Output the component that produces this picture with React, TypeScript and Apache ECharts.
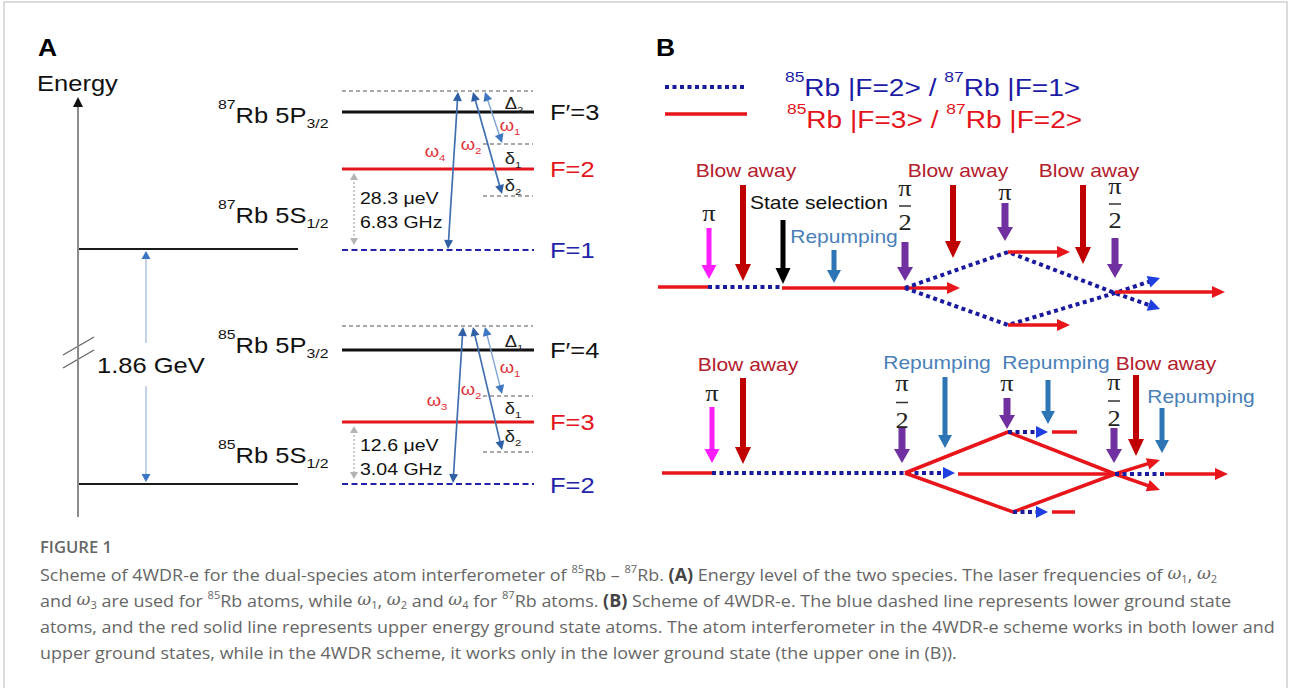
import React, { useEffect, useRef } from 'react';
import * as echarts from 'echarts';

const SANS = '"Liberation Sans", Arial, sans-serif';
const SERIF = '"Liberation Serif", "DejaVu Serif", serif';
const CAP = '"Open Sans", "Noto Sans", sans-serif';

// ---------------- data ----------------
// Panel A energy levels: [x1, y1, x2, y2, kind]
const levelLines: [number, number, number, number, string][] = [
  [78, 249, 298, 249, 'ground'],
  [78, 484, 298, 484, 'ground'],
  [63, 355, 94, 337, 'brk'],
  [63, 368, 94, 350, 'brk'],
  [342, 91, 533, 91, 'virt'],
  [342, 112, 534, 112, 'excited'],
  [483, 144, 533, 144, 'virt'],
  [342, 169, 534, 169, 'upper'],
  [483, 196, 533, 196, 'virt'],
  [342, 250, 534, 250, 'lower'],
  [342, 326, 533, 326, 'virt'],
  [342, 350, 534, 350, 'excited'],
  [483, 396, 533, 396, 'virt'],
  [342, 422, 534, 422, 'upper'],
  [483, 452, 533, 452, 'virt'],
  [342, 484, 534, 484, 'lower'],
];

// Panel A transitions: [x1, y1, x2, y2, kind, heads]
const transitions: [number, number, number, number, string, string][] = [
  [78, 517, 78, 97, 'axis', 'end'],
  [146, 343, 146, 251, 'gap', 'end'],
  [146, 386, 146, 482, 'gap', 'end'],
  [448, 249, 458, 92, 'omega', 'both'],
  [473, 92, 502, 194, 'omega', 'both'],
  [485, 92, 502, 143, 'omegaLight', 'both'],
  [453, 483, 463, 327, 'omega', 'both'],
  [473, 327, 502, 450, 'omega', 'both'],
  [485, 327, 502, 394, 'omegaLight', 'both'],
  [354, 173, 354, 245, 'split', 'both'],
  [354, 426, 354, 479, 'split', 'both'],
];

// Panel B atom trajectories: points, state kind, arrow flag
const trajPoints: number[][][] = [
  [[665, 87], [747, 87]],
  [[665, 114], [747, 114]],
  [[658, 287], [708, 287]],
  [[708, 287], [782, 287]],
  [[782, 288], [960, 288]],
  [[905, 288], [1008, 252], [1115, 293], [1160, 309]],
  [[905, 288], [1008, 325], [1115, 293], [1160, 278]],
  [[1008, 252], [1070, 252]],
  [[1008, 325], [1070, 325]],
  [[1115, 292], [1225, 292]],
  [[662, 473], [712, 473]],
  [[712, 473], [955, 473]],
  [[905, 473], [1008, 432], [1115, 474], [1160, 490]],
  [[905, 473], [1013, 512], [1115, 474], [1160, 460]],
  [[958, 474], [1115, 474]],
  [[1115, 474], [1165, 474]],
  [[1165, 474], [1228, 474]],
  [[1008, 432], [1048, 432]],
  [[1052, 432], [1077, 432]],
  [[1013, 512], [1048, 512]],
  [[1052, 512], [1075, 512]],
];
const trajKinds = ['blue', 'red', 'red', 'blue', 'red', 'blue', 'blue', 'red', 'red', 'red',
  'red', 'blue', 'red', 'red', 'red', 'blue', 'red', 'blue', 'red', 'blue', 'red'];
const trajArrow = [false, false, false, false, true, true, true, true, true, true,
  false, true, true, true, false, false, true, true, false, true, false];

// Panel B laser pulses: [x, yTop, yTip, kind]
const pulses: [number, number, number, string][] = [
  [709, 228, 279, 'magenta'],
  [743, 185, 281, 'blow'],
  [783, 220, 284, 'select'],
  [834, 250, 283, 'repump'],
  [905, 242, 281, 'purple'],
  [953, 185, 258, 'blow'],
  [1005, 203, 241, 'purple'],
  [1083, 185, 264, 'blow'],
  [1115, 238, 278, 'purple'],
  [712, 407, 463, 'magenta'],
  [743, 378, 464, 'blow'],
  [902, 428, 463, 'purple'],
  [945, 377, 448, 'repump'],
  [1007, 398, 429, 'purple'],
  [1048, 380, 424, 'repump'],
  [1114, 428, 463, 'purple'],
  [1136, 375, 456, 'blow'],
  [1162, 408, 453, 'repump'],
];

// π/2 labels: [x, yPi, yTwo]
const halfPiLabels: [number, number, number][] = [
  [905, 188, 222],
  [1115, 186, 220],
  [902, 383, 420],
  [1114, 382, 418],
];

// Text labels: [x, y, content, kind, align]
const labels: [number, number, string, string, string][] = [
  [38, 47, '{n|A}', 'panel', 'left'],
  [656, 47, '{n|B}', 'panel', 'left'],
  [37, 83, '{n|Energy}', 'a', 'left'],
  [97, 365, '{n|1.86 GeV}', 'a', 'left'],
  [218, 115, '{p|87}{n|Rb 5P}{b|3/2}', 'a', 'left'],
  [218, 215, '{p|87}{n|Rb 5S}{b|1/2}', 'a', 'left'],
  [218, 345, '{p|85}{n|Rb 5P}{b|3/2}', 'a', 'left'],
  [218, 455, '{p|85}{n|Rb 5S}{b|1/2}', 'a', 'left'],
  [550, 112, '{n|F\u2032=3}', 'a', 'left'],
  [550, 169, '{n|F=2}', 'aRed', 'left'],
  [550, 250, '{n|F=1}', 'aBlue', 'left'],
  [550, 350, '{n|F\u2032=4}', 'a', 'left'],
  [550, 422, '{n|F=3}', 'aRed', 'left'],
  [550, 485, '{n|F=2}', 'aBlue', 'left'],
  [360, 198, '{n|28.3 \u03bceV}', 'gap', 'left'],
  [360, 222, '{n|6.83 GHz}', 'gap', 'left'],
  [360, 445, '{n|12.6 \u03bceV}', 'gap', 'left'],
  [360, 469, '{n|3.04 GHz}', 'gap', 'left'],
  [514, 103, '{n|\u0394}{b|2}', 'small', 'center'],
  [510, 125, '{n|\u03c9}{b|1}', 'smallRed', 'center'],
  [471, 144, '{n|\u03c9}{b|2}', 'smallRed', 'center'],
  [435, 151, '{n|\u03c9}{b|4}', 'smallRed', 'center'],
  [513, 158, '{n|\u03b4}{b|1}', 'small', 'center'],
  [513, 185, '{n|\u03b4}{b|2}', 'small', 'center'],
  [514, 341, '{n|\u0394}{b|1}', 'small', 'center'],
  [510, 367, '{n|\u03c9}{b|1}', 'smallRed', 'center'],
  [471, 389, '{n|\u03c9}{b|2}', 'smallRed', 'center'],
  [437, 400, '{n|\u03c9}{b|3}', 'smallRed', 'center'],
  [513, 408, '{n|\u03b4}{b|1}', 'small', 'center'],
  [513, 436, '{n|\u03b4}{b|2}', 'small', 'center'],
  [785, 88, '{p|85}{n|Rb |F=2> / }{p|87}{n|Rb |F=1>}', 'legBlue', 'left'],
  [787, 120, '{p|85}{n|Rb |F=3> / }{p|87}{n|Rb |F=2>}', 'legRed', 'left'],
  [746, 171, '{n|Blow away}', 'blow', 'center'],
  [958, 171, '{n|Blow away}', 'blow', 'center'],
  [1089, 171, '{n|Blow away}', 'blow', 'center'],
  [748, 365, '{n|Blow away}', 'blow', 'center'],
  [1166, 364, '{n|Blow away}', 'blow', 'center'],
  [819, 203, '{n|State selection}', 'select', 'center'],
  [844, 237, '{n|Repumping}', 'repump', 'center'],
  [937, 363, '{n|Repumping}', 'repump', 'center'],
  [1056, 363, '{n|Repumping}', 'repump', 'center'],
  [1201, 397, '{n|Repumping}', 'repump', 'center'],
  [709, 213, '{n|\u03c0}', 'pi', 'center'],
  [1005, 192, '{n|\u03c0}', 'pi', 'center'],
  [712, 393, '{n|\u03c0}', 'pi', 'center'],
  [1007, 383, '{n|\u03c0}', 'pi', 'center'],
  [40, 547, '{n|FIGURE 1}', 'figLabel', 'left'],
];

const captionLines: string[] = [
  '{n|Scheme of 4WDR-e for the dual-species atom interferometer of }{p|85}{n|Rb \u2013 }{p|87}{n|Rb. }{B|(A)}{n| Energy level of the two species. The laser frequencies of }{w|\u03c9}{b|1}{n|, }{w|\u03c9}{b|2}',
  '{n|and }{w|\u03c9}{b|3}{n| are used for }{p|85}{n|Rb atoms, while }{w|\u03c9}{b|1}{n|, }{w|\u03c9}{b|2}{n| and }{w|\u03c9}{b|4}{n| for }{p|87}{n|Rb atoms. }{B|(B)}{n| Scheme of 4WDR-e. The blue dashed line represents lower ground state}',
  '{n|atoms, and the red solid line represents upper energy ground state atoms. The atom interferometer in the 4WDR-e scheme works in both lower and}',
  '{n|upper ground states, while in the 4WDR scheme, it works only in the lower ground state (the upper one in (B)).}',
];

// ---------------- styles ----------------
const CAPTION_X = 40;
const CAPTION_Y0 = 574;
const CAPTION_STEP = 26;

const levelStyle: Record<string, any> = {
  ground: { stroke: '#1a1a1a', lineWidth: 2 },
  brk: { stroke: '#666', lineWidth: 1.3 },
  virt: { stroke: '#555', lineWidth: 1.2, lineDash: [4, 3] },
  excited: { stroke: '#111', lineWidth: 3.2 },
  upper: { stroke: '#e3161b', lineWidth: 3 },
  lower: { stroke: '#2323aa', lineWidth: 2, lineDash: [6, 3.5] },
};

const transStyle: Record<string, any> = {
  axis: { stroke: '#8c8c8c', lineWidth: 2, head: '#111', hl: 10, hw: 5 },
  gap: { stroke: '#a9c0e3', lineWidth: 1.4, head: '#3a76c4', hl: 8, hw: 4.5 },
  omega: { stroke: '#4170b0', lineWidth: 1.7, head: '#2f5fa5', hl: 9, hw: 4.5 },
  omegaLight: { stroke: '#7fa4d4', lineWidth: 1.4, head: '#3f78c0', hl: 9, hw: 4.5 },
  split: { stroke: '#bdbdbd', lineWidth: 1.6, lineDash: [2, 2], head: '#b4b4b4', hl: 7, hw: 4 },
};

const trajStyle: Record<string, any> = {
  red: { stroke: '#e8161b', lineWidth: 3.5, head: '#e8161b', hl: 13, hw: 6 },
  blue: { stroke: '#1a1a9e', lineWidth: 4, lineDash: [4, 3.5], head: '#1f3fe0', hl: 12, hw: 6 },
};

const pulseStyle: Record<string, any> = {
  magenta: { fill: '#ff1cff', shaft: 5, head: 15, hl: 14 },
  blow: { fill: '#c00000', shaft: 6, head: 16, hl: 17 },
  select: { fill: '#000', shaft: 5, head: 15, hl: 16 },
  repump: { fill: '#2e75b6', shaft: 5, head: 14, hl: 13 },
  purple: { fill: '#7030a0', shaft: 7, head: 16, hl: 14 },
};

const textStyles: Record<string, any> = {
  panel: { size: 24, family: SANS, fill: '#000', weight: 'bold', sx: 1.1 },
  a: { size: 22, family: SANS, fill: '#111', sx: 1.16 },
  aRed: { size: 22, family: SANS, fill: '#e3141b', sx: 1.16 },
  aBlue: { size: 22, family: SANS, fill: '#2323a8', sx: 1.16 },
  gap: { size: 17, family: SANS, fill: '#111', sx: 1.15 },
  small: { size: 16, family: SANS, fill: '#222', sx: 1.15 },
  smallRed: { size: 16, family: SANS, fill: '#e0303a', sx: 1.15 },
  legBlue: { size: 24, family: SANS, fill: '#1c1ca6', sx: 1.17 },
  legRed: { size: 24, family: SANS, fill: '#e3141b', sx: 1.17 },
  blow: { size: 18, family: SANS, fill: '#b4202c', sx: 1.17 },
  select: { size: 18, family: SANS, fill: '#111', sx: 1.17 },
  repump: { size: 18, family: SANS, fill: '#4a7fb8', sx: 1.17 },
  pi: { size: 24, family: SERIF, fill: '#222', sx: 1.1 },
  figLabel: { size: 16, family: CAP, fill: '#666', weight: '600', sx: 1.04 },
  caption: { size: 17, family: CAP, fill: '#666', sx: 1.055, lh: 1.3 },
};

function richFor(st: any) {
  const S = st.size;
  const L = S * (st.lh || 1.6);
  const base = { fontFamily: st.family, fill: st.fill };
  return {
    n: { ...base, fontSize: S, fontWeight: st.weight || 'normal', lineHeight: L },
    B: { ...base, fontSize: S, fontWeight: 'bold', fill: '#444', lineHeight: L },
    w: { fontFamily: '"DejaVu Serif", serif', fontStyle: 'italic', fill: st.fill, fontSize: S * 0.95, lineHeight: L },
    p: { ...base, fontSize: S * 0.62, verticalAlign: 'top', height: S * 0.62 },
    b: { ...base, fontSize: S * 0.62, verticalAlign: 'bottom', height: S * 0.8 },
  };
}

function textEl(api: any, x: number, y: number, content: string, kind: string, align: string) {
  const st = textStyles[kind];
  const p = api.coord([x, y]);
  return {
    type: 'text',
    x: p[0],
    y: p[1],
    scaleX: st.sx || 1,
    style: {
      text: content,
      align,
      verticalAlign: 'middle',
      fontSize: st.size,
      fontFamily: st.family,
      fill: st.fill,
      rich: richFor(st),
    },
  };
}

function headPts(tip: number[], from: number[], hl: number, hw: number) {
  const dx = tip[0] - from[0];
  const dy = tip[1] - from[1];
  const len = Math.hypot(dx, dy) || 1;
  const ux = dx / len;
  const uy = dy / len;
  const bx = tip[0] - ux * hl;
  const by = tip[1] - uy * hl;
  return {
    pts: [[tip[0], tip[1]], [bx - uy * hw, by + ux * hw], [bx + uy * hw, by - ux * hw]],
    base: [tip[0] - ux * hl * 0.7, tip[1] - uy * hl * 0.7],
  };
}

function customSeries(name: string, rows: any[], render: (i: number, api: any) => any, z: number) {
  return {
    type: 'custom',
    name,
    coordinateSystem: 'cartesian2d',
    silent: true,
    z,
    animation: false,
    data: rows.map((r: any) => r),
    renderItem: (params: any, api: any) => render(params.dataIndex, api),
  };
}

const levelSeries = customSeries('levels', levelLines.map((r) => [r[0], r[1]]), (i, api) => {
  const [x1, y1, x2, y2, kind] = levelLines[i];
  const a = api.coord([x1, y1]);
  const b = api.coord([x2, y2]);
  return { type: 'line', shape: { x1: a[0], y1: a[1], x2: b[0], y2: b[1] }, style: { ...levelStyle[kind] } };
}, 1);

const transitionSeries = customSeries('transitions', transitions.map((r) => [r[0], r[1]]), (i, api) => {
  const [x1, y1, x2, y2, kind, heads] = transitions[i];
  const st = transStyle[kind];
  const a = api.coord([x1, y1]);
  const b = api.coord([x2, y2]);
  const children: any[] = [];
  const hEnd = headPts(b, a, st.hl, st.hw);
  const hStart = headPts(a, b, st.hl, st.hw);
  const la = heads === 'both' ? hStart.base : a;
  const lb = hEnd.base;
  children.push({ type: 'line', shape: { x1: la[0], y1: la[1], x2: lb[0], y2: lb[1] }, style: { stroke: st.stroke, lineWidth: st.lineWidth, lineDash: st.lineDash } });
  children.push({ type: 'polygon', shape: { points: hEnd.pts }, style: { fill: st.head } });
  if (heads === 'both') children.push({ type: 'polygon', shape: { points: hStart.pts }, style: { fill: st.head } });
  return { type: 'group', children };
}, 2);

const trajSeries = customSeries('trajectories', trajPoints.map((r) => r[0]), (i, api) => {
  const st = trajStyle[trajKinds[i]];
  const pts = trajPoints[i].map((p) => api.coord(p));
  const children: any[] = [];
  if (trajArrow[i]) {
    const n = pts.length;
    const h = headPts(pts[n - 1], pts[n - 2], st.hl, st.hw);
    const linePts = pts.slice(0, n - 1).concat([h.base]);
    children.push({ type: 'polyline', shape: { points: linePts }, style: { stroke: st.stroke, lineWidth: st.lineWidth, lineDash: st.lineDash, fill: null } });
    children.push({ type: 'polygon', shape: { points: h.pts }, style: { fill: st.head } });
  } else {
    children.push({ type: 'polyline', shape: { points: pts }, style: { stroke: st.stroke, lineWidth: st.lineWidth, lineDash: st.lineDash, fill: null } });
  }
  return { type: 'group', children };
}, 3);

const pulseSeries = customSeries('pulses', pulses.map((r) => [r[0], r[1]]), (i, api) => {
  const [x, yTop, yTip, kind] = pulses[i];
  const st = pulseStyle[kind];
  const top = api.coord([x, yTop]);
  const tip = api.coord([x, yTip]);
  const cx = top[0];
  const s = st.shaft / 2;
  const h = st.head / 2;
  const yb = tip[1] - st.hl;
  return {
    type: 'polygon',
    shape: { points: [[cx - s, top[1]], [cx + s, top[1]], [cx + s, yb], [cx + h, yb], [cx, tip[1]], [cx - h, yb], [cx - s, yb]] },
    style: { fill: st.fill },
  };
}, 4);

const halfPiSeries = customSeries('halfPi', halfPiLabels.map((r) => [r[0], r[1]]), (i, api) => {
  const [x, yPi, yTwo] = halfPiLabels[i];
  const mid = api.coord([x, (yPi + yTwo) / 2 + 1]);
  return {
    type: 'group',
    children: [
      textEl(api, x, yPi, '{n|\u03c0}', 'pi', 'center'),
      textEl(api, x, yTwo, '{n|2}', 'pi', 'center'),
      { type: 'line', shape: { x1: mid[0] - 6, y1: mid[1], x2: mid[0] + 6, y2: mid[1] }, style: { stroke: '#333', lineWidth: 1.5 } },
    ],
  };
}, 5);

const labelSeries = customSeries('labels', labels.map((r) => [r[0], r[1]]), (i, api) => {
  const [x, y, content, kind, align] = labels[i];
  return textEl(api, x, y, content, kind, align);
}, 6);

const captionSeries = customSeries('caption', captionLines.map((_, i) => [CAPTION_X, CAPTION_Y0 + i * CAPTION_STEP]), (i, api) => {
  return textEl(api, CAPTION_X, CAPTION_Y0 + i * CAPTION_STEP, captionLines[i], 'caption', 'left');
}, 6);

const option: any = {
  animation: false,
  backgroundColor: '#fff',
  grid: { left: 0, right: 0, top: 0, bottom: 0 },
  xAxis: { type: 'value', min: 0, max: 1290, show: false },
  yAxis: { type: 'value', min: 0, max: 688, inverse: true, show: false },
  graphic: [
    {
      type: 'rect',
      silent: true,
      shape: { x: 4, y: 2, width: 1283, height: 760 },
      style: { fill: 'none', stroke: '#d0d0d0', lineWidth: 1.5 },
    },
  ],
  series: [levelSeries, transitionSeries, trajSeries, pulseSeries, halfPiSeries, labelSeries, captionSeries],
};

export default function App() {
  const ref = useRef<HTMLDivElement>(null);
  useEffect(() => {
    if (!ref.current) return;
    const chart = echarts.init(ref.current, null, { renderer: 'svg' });
    chart.setOption(option);
    return () => chart.dispose();
  }, []);
  return (
    <div
      ref={ref}
      style={{ position: 'fixed', left: 0, top: 0, width: 1290, height: 688, background: '#fff' }}
    />
  );
}
